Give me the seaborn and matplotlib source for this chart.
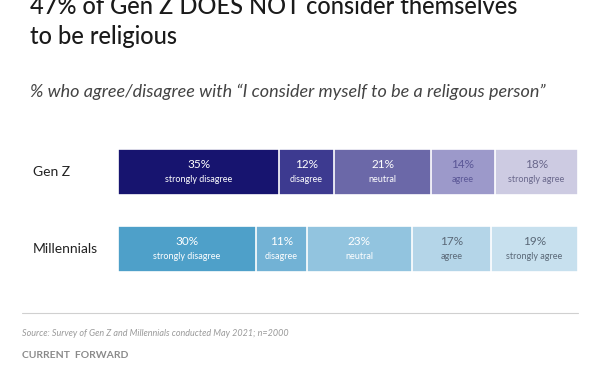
import matplotlib.pyplot as plt
import pandas as pd
import seaborn as sns

GROUPS = ["Gen Z", "Millennials"]
RESPONSES = ["strongly disagree", "disagree", "neutral", "agree", "strongly agree"]
GEN_Z = [35, 12, 21, 14, 18]
MILLENNIALS = [30, 11, 23, 17, 19]

GEN_Z_COLORS = ["#17146f", "#3d3a90", "#6b68a8", "#9c99ca", "#cdcbe2"]
MILL_COLORS = ["#4ea0c9", "#72b2d5", "#92c4df", "#b4d5e8", "#c7e0ee"]
GEN_Z_TEXT = ["white", "white", "white", "#5a5696", "#6a688c"]
MILL_TEXT = ["white", "white", "white", "#5a6877", "#5a6877"]

FONT = "Lato"


def main() -> None:
    sns.set_theme(style="white")
    plt.rcParams["font.family"] = [FONT, "DejaVu Sans"]

    rows = []
    for group, values in zip(GROUPS, [GEN_Z, MILLENNIALS]):
        cum = 0
        for resp, v in zip(RESPONSES, values):
            rows.append({"group": group, "response": resp, "value": v, "left": cum, "right": cum + v})
            cum += v
    df = pd.DataFrame(rows)

    fig = plt.figure(figsize=(6, 3.75), dpi=100)
    ax = fig.add_axes([118 / 600, (375 - 287.5) / 375, 460 / 600, 154 / 375])

    # stacked bars: draw cumulative totals from the last segment back to the first
    for k in reversed(range(len(RESPONSES))):
        sub = df[df["response"] == RESPONSES[k]]
        sns.barplot(
            data=sub, x="right", y="group", hue="group", order=GROUPS,
            palette={GROUPS[0]: GEN_Z_COLORS[k], GROUPS[1]: MILL_COLORS[k]},
            orient="h", width=0.6, saturation=1, edgecolor="white", linewidth=1.2,
            legend=False, ax=ax,
        )

    text_colors = {GROUPS[0]: GEN_Z_TEXT, GROUPS[1]: MILL_TEXT}
    for _, r in df.iterrows():
        yi = GROUPS.index(r["group"])
        k = RESPONSES.index(r["response"])
        c = text_colors[r["group"]][k]
        xm = (r["left"] + r["right"]) / 2
        ax.text(xm, yi - 0.1, f"{r['value']}%", ha="center", va="center", fontsize=8.5, color=c)
        ax.text(xm, yi + 0.1, r["response"], ha="center", va="center", fontsize=6.5, color=c)

    ax.set_xlim(0, 100)
    ax.set_ylim(1.5, -0.5)
    ax.axis("off")

    for i, g in enumerate(GROUPS):
        fig.text(33 / 600, 1 - (172 + i * 77) / 375, g, ha="left", va="center",
                 fontsize=10, color="#222222")

    fig.text(30 / 600, 1 - 7 / 375, "47% of Gen Z DOES NOT consider themselves",
             ha="left", va="center", fontsize=17, weight="medium", color="#1a1a1a")
    fig.text(30 / 600, 1 - 36 / 375, "to be religious",
             ha="left", va="center", fontsize=17, weight="medium", color="#1a1a1a")
    fig.text(30 / 600, 1 - 92 / 375,
             "% who agree/disagree with \u201cI consider myself to be a religous person\u201d",
             ha="left", va="center", fontsize=13, style="italic", color="#444444")

    fig.add_artist(plt.Line2D([22 / 600, 578 / 600], [1 - 313 / 375] * 2,
                              color="#d0d0d0", linewidth=0.8))
    fig.text(22 / 600, 1 - 334 / 375,
             "Source: Survey of Gen Z and Millennials conducted May 2021; n=2000",
             ha="left", va="center", fontsize=6.5, style="italic", color="#9a9a9a")
    fig.text(22 / 600, 1 - 356 / 375, "CURRENT  FORWARD",
             ha="left", va="center", fontsize=7.5, weight="bold", color="#8a8a8a")

    fig.savefig("out.png", dpi=100)
    plt.close(fig)


if __name__ == "__main__":
    main()
